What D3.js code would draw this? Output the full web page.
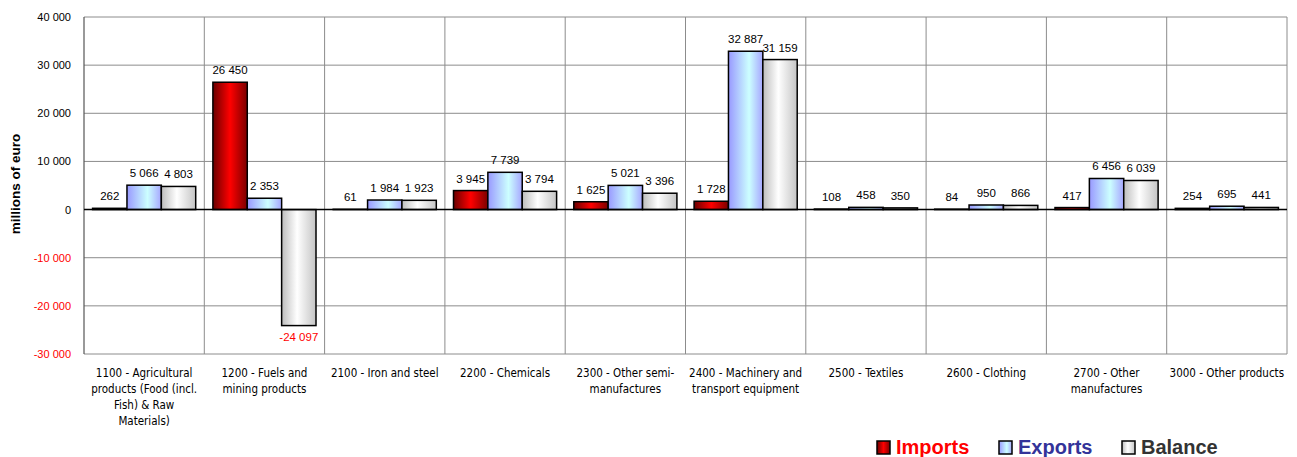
<!DOCTYPE html>
<html>
<head>
<meta charset="utf-8">
<script src="https://cdn.jsdelivr.net/npm/d3@7"></script>
<style>
  body { margin: 0; background: #fff; }
  text { font-family: "Liberation Sans", Arial, sans-serif; }
  text.cat { font-family: "DejaVu Sans Condensed", "DejaVu Sans", sans-serif; }
</style>
</head>
<body>
<svg id="chart" width="1297" height="457"></svg>
<script>
// category labels, one string per category, "|" = line break
var categories = [
  "1100 - Agricultural|products (Food (incl.|Fish) & Raw|Materials)",
  "1200 - Fuels and|mining products",
  "2100 - Iron and steel",
  "2200 - Chemicals",
  "2300 - Other semi-|manufactures",
  "2400 - Machinery and|transport equipment",
  "2500 - Textiles",
  "2600 - Clothing",
  "2700 - Other|manufactures",
  "3000 - Other products"
];
var imports = [262, 26450, 61, 3945, 1625, 1728, 108, 84, 417, 254];
var exports = [5066, 2353, 1984, 7739, 5021, 32887, 458, 950, 6456, 695];
var balance = [4803, -24097, 1923, 3794, 3396, 31159, 350, 866, 6039, 441];
var seriesNames = ["Imports", "Exports", "Balance"];
var yTicks = [-30000, -20000, -10000, 0, 10000, 20000, 30000, 40000];

(function() {
var svg = d3.select("#chart");
var pLeft = 84, pRight = 1287, pTop = 17, pBottom = 354;

var fmt = d3.formatLocale({decimal: ",", thousands: " ", grouping: [3], currency: ["", ""], minus: "-"}).format(",d");

var x = d3.scaleBand().domain(d3.range(categories.length)).range([pLeft, pRight]);
var x1 = d3.scaleBand().domain(seriesNames).range([0, x.bandwidth()]).paddingOuter(0.25);
var y = d3.scaleLinear().domain([-30000, 40000]).range([pBottom, pTop]);

// gradients for the bars (dark at the edges, light in the middle)
var defs = svg.append("defs");
var grads = {
  Imports: [["0%", "#6a0000"], ["50%", "#ff0000"], ["100%", "#7a0000"]],
  Exports: [["0%", "#9999ff"], ["60%", "#ccffff"], ["100%", "#a6a6ff"]],
  Balance: [["0%", "#bdbdbd"], ["45%", "#ffffff"], ["100%", "#c4c4c4"]]
};
seriesNames.forEach(function(s) {
  var g = defs.append("linearGradient").attr("id", "g" + s)
    .attr("x1", "0").attr("x2", "1").attr("y1", "0").attr("y2", "0");
  grads[s].forEach(function(st) {
    g.append("stop").attr("offset", st[0]).attr("stop-color", st[1]);
  });
});

// grid
svg.append("g").selectAll("line").data(yTicks).enter().append("line")
  .attr("x1", pLeft).attr("x2", pRight)
  .attr("y1", function(d) { return y(d); }).attr("y2", function(d) { return y(d); })
  .attr("stroke", "#8c8c8c").attr("stroke-width", 1);
svg.append("g").selectAll("line").data(d3.range(1, categories.length + 1)).enter().append("line")
  .attr("x1", function(i) { return x(i - 1) + x.bandwidth(); })
  .attr("x2", function(i) { return x(i - 1) + x.bandwidth(); })
  .attr("y1", pTop).attr("y2", pBottom)
  .attr("stroke", "#8c8c8c").attr("stroke-width", 1);
svg.append("line").attr("x1", pLeft).attr("x2", pLeft).attr("y1", pTop).attr("y2", pBottom)
  .attr("stroke", "#555").attr("stroke-width", 1.2);

// y axis labels
svg.append("g").selectAll("text").data(yTicks).enter().append("text")
  .attr("x", 71).attr("y", function(d) { return y(d) + 4; })
  .attr("text-anchor", "end").attr("font-size", "11px")
  .attr("fill", function(d) { return d < 0 ? "#ff0000" : "#000"; })
  .text(function(d) { return fmt(d); });

svg.append("text")
  .attr("transform", "translate(20,184) rotate(-90)")
  .attr("text-anchor", "middle").attr("font-size", "13.5px").attr("font-weight", "bold")
  .text("millions of euro");

// bars
var rows = categories.map(function(c, i) {
  return [
    {s: "Imports", i: i, v: imports[i]},
    {s: "Exports", i: i, v: exports[i]},
    {s: "Balance", i: i, v: balance[i]}
  ];
});
var groups = svg.append("g").selectAll("g").data(rows).enter().append("g")
  .attr("transform", function(d, i) { return "translate(" + x(i) + ",0)"; });

groups.selectAll("rect").data(function(d) { return d; }).enter().append("rect")
  .attr("x", function(d) { return x1(d.s); })
  .attr("width", x1.bandwidth())
  .attr("y", function(d) { return y(Math.max(0, d.v)); })
  .attr("height", function(d) { return Math.abs(y(d.v) - y(0)); })
  .attr("fill", function(d) { return "url(#g" + d.s + ")"; })
  .attr("stroke", "#000").attr("stroke-width", 1.5);

// zero line
svg.append("line").attr("x1", pLeft).attr("x2", pRight).attr("y1", y(0)).attr("y2", y(0))
  .attr("stroke", "#000").attr("stroke-width", 1.6);

groups.selectAll("text.val").data(function(d) { return d; }).enter().append("text")
  .attr("class", "val")
  .attr("x", function(d) { return x1(d.s) + x1.bandwidth() / 2; })
  .attr("y", function(d) { return d.v < 0 ? y(d.v) + 15 : y(d.v) - 8; })
  .attr("text-anchor", "middle").attr("font-size", "11.5px")
  .attr("fill", function(d) { return d.v < 0 ? "#ff0000" : "#000"; })
  .text(function(d) { return fmt(d.v); });

// category labels
svg.append("g").selectAll("text").data(categories).enter().append("text")
  .attr("class", "cat")
  .attr("x", function(d, i) { return x(i) + x.bandwidth() / 2; })
  .attr("y", 377)
  .attr("text-anchor", "middle")
  .attr("font-size", "11.5px")
  .each(function(d) {
    var t = d3.select(this);
    d.split("|").forEach(function(line, k) {
      t.append("tspan").attr("x", t.attr("x")).attr("dy", k === 0 ? 0 : 16).text(line);
    });
  });

// legend
var legColors = {Imports: "#ff0000", Exports: "#333399", Balance: "#333333"};
var legX = {Imports: 877, Exports: 999, Balance: 1122};
var leg = svg.append("g").selectAll("g").data(seriesNames).enter().append("g")
  .attr("transform", function(d) { return "translate(" + legX[d] + ",441)"; });
leg.append("rect").attr("width", 13).attr("height", 13)
  .attr("fill", function(d) { return "url(#g" + d + ")"; })
  .attr("stroke", "#000").attr("stroke-width", 1.5);
leg.append("text").attr("x", 19).attr("y", 13)
  .attr("font-size", "20px").attr("font-weight", "bold")
  .attr("fill", function(d) { return legColors[d]; })
  .text(function(d) { return d; });
})();
</script>
</body>
</html>
